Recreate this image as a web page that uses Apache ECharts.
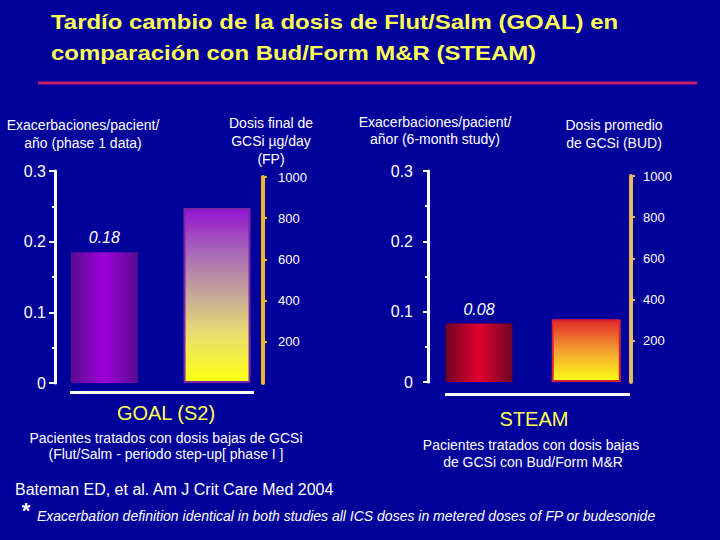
<!DOCTYPE html>
<html>
<head>
<meta charset="utf-8">
<script src="https://cdn.jsdelivr.net/npm/echarts@6/dist/echarts.min.js"></script>
<style>
html,body{margin:0;padding:0;background:#00009a;}
#chart{width:720px;height:540px;}
</style>
</head>
<body>
<div id="chart"></div>
<script>
// ---- data ----
const categories = ['Exacerbaciones', 'Dosis GCSi'];
const goalExacerbations = [0.185, '-'];
const goalDose = ['-', 850];
const steamExacerbations = [0.083, '-'];
const steamDose = ['-', 305];
const exacerbationLabels = ['0.18', '0.08'];
const exacerbationTicks = { min: 0, max: 0.3, interval: 0.1 };
const doseTicks = { min: 0, max: 1000, interval: 200 };

const FONT = '"Liberation Sans", Arial, sans-serif';
const chart = echarts.init(document.getElementById('chart'), null, { renderer: 'svg' });

function hGrad(edge, mid) {
  return new echarts.graphic.LinearGradient(0, 0, 1, 0, [
    { offset: 0, color: edge }, { offset: 0.5, color: mid }, { offset: 1, color: edge }
  ]);
}
function vGrad(stops) {
  return new echarts.graphic.LinearGradient(0, 0, 0, 1, stops);
}

function exacAxis(gridIndex, offset, tickLen, margin) {
  return {
    type: 'value', gridIndex, position: 'left', offset,
    min: exacerbationTicks.min, max: exacerbationTicks.max, interval: exacerbationTicks.interval,
    axisLine: { show: true, lineStyle: { color: '#ffffff', width: 3 } },
    axisTick: { show: true, length: tickLen, lineStyle: { color: '#ffffff', width: 2 } },
    minorTick: { show: true, splitNumber: 2, length: 3, lineStyle: { color: '#ffffff', width: 2 } },
    splitLine: { show: false },
    axisLabel: { color: '#ffffff', fontSize: 16, fontFamily: FONT, margin }
  };
}
function doseAxis(gridIndex, offset, color, margin) {
  return {
    type: 'value', gridIndex, position: 'right', offset,
    min: doseTicks.min, max: doseTicks.max, interval: doseTicks.interval,
    axisLine: { show: true, lineStyle: { color, width: 4 } },
    axisTick: { show: true, length: 4, lineStyle: { color, width: 2 } },
    splitLine: { show: false },
    axisLabel: { color: '#ffffff', fontSize: 13, fontFamily: FONT, margin, showMinLabel: false,
      formatter: (v) => String(v) }
  };
}
function catAxis(gridIndex) {
  return { type: 'category', gridIndex, data: categories, show: false };
}

function txt(text, x, y, size, opts) {
  opts = opts || {};
  return {
    type: 'text', x, y, scaleX: opts.scaleX || 1, silent: true,
    style: {
      text, fill: opts.color || '#ffffff',
      font: (opts.style || '') + ' ' + (opts.weight || 'normal') + ' ' + size + 'px ' + FONT,
      align: opts.align || 'center', verticalAlign: 'middle',
      textAlign: opts.align || 'center', textVerticalAlign: 'middle'
    }
  };
}

const YELLOW = '#ffff55';

const option = {
  backgroundColor: '#00009a',
  animation: false,
  grid: [
    { left: 48, right: 446.65, top: 171, bottom: 157 },
    { left: 48, right: 446.65, top: 177, bottom: 157 },
    { left: 425.4, right: 80.2, top: 171, bottom: 158 },
    { left: 425.4, right: 80.2, top: 176, bottom: 158 }
  ],
  xAxis: [catAxis(0), catAxis(1), catAxis(2), catAxis(3)],
  yAxis: [
    exacAxis(0, -7, 6, 9),
    doseAxis(1, -10.35, '#f2b62c', 15),
    exacAxis(2, -2.6, 5, 15),
    doseAxis(3, -8.8, '#e8b85c', 12)
  ],
  series: [
    {
      type: 'bar', xAxisIndex: 0, yAxisIndex: 0, barWidth: 67, data: goalExacerbations,
      itemStyle: { color: hGrad('#580c8e', '#9e00da') },
      label: { show: true, position: 'top', distance: 7, color: '#ffffff', fontSize: 16,
        fontStyle: 'italic', fontFamily: FONT, formatter: () => exacerbationLabels[0] }
    },
    {
      type: 'bar', xAxisIndex: 1, yAxisIndex: 1, barWidth: 67, data: goalDose,
      itemStyle: {
        color: vGrad([
          { offset: 0, color: '#9414d2' }, { offset: 0.25, color: '#a868b8' },
          { offset: 0.5, color: '#c8a898' }, { offset: 0.72, color: '#e8de70' },
          { offset: 1, color: '#ffff10' }
        ]),
        borderColor: '#7a24a8', borderWidth: 2
      }
    },
    {
      type: 'bar', xAxisIndex: 2, yAxisIndex: 2, barWidth: 67, data: steamExacerbations,
      itemStyle: { color: hGrad('#6e0424', '#e2002e') },
      label: { show: true, position: 'top', distance: 6, color: '#ffffff', fontSize: 16,
        fontStyle: 'italic', fontFamily: FONT, formatter: () => exacerbationLabels[1] }
    },
    {
      type: 'bar', xAxisIndex: 3, yAxisIndex: 3, barWidth: 69, data: steamDose,
      itemStyle: {
        color: vGrad([
          { offset: 0, color: '#e02828' }, { offset: 0.5, color: '#f4a030' },
          { offset: 1, color: '#ffff18' }
        ]),
        borderColor: '#d8203a', borderWidth: 2
      }
    }
  ],
  graphic: [
    txt('Tardío cambio de la dosis de Flut/Salm (GOAL) en', 51, 21.6, 21, { weight: 'bold', color: YELLOW, align: 'left', scaleX: 1.14 }),
    txt('comparación con Bud/Form M&R (STEAM)', 51, 52.6, 21, { weight: 'bold', color: YELLOW, align: 'left', scaleX: 1.14 }),
    { type: 'rect', silent: true, shape: { x: 38, y: 81.5, width: 659, height: 3 }, style: { fill: '#c41e6a' } },

    txt('Exacerbaciones/pacient/', 83, 125, 14),
    txt('año (phase 1 data)', 83, 143, 14),
    txt('Dosis final de', 271, 123, 14),
    txt('GCSi µg/day', 271, 141, 14),
    txt('(FP)', 271, 159, 14),

    txt('Exacerbaciones/pacient/', 435, 122, 14),
    txt('añor (6-month study)', 435, 139, 14),
    txt('Dosis promedio', 614, 125, 14),
    txt('de GCSi (BUD)', 614, 143, 14),

    { type: 'rect', silent: true, shape: { x: 70, y: 391, width: 184, height: 3 }, style: { fill: '#ffffff' } },
    { type: 'rect', silent: true, shape: { x: 445, y: 393, width: 185, height: 3 }, style: { fill: '#ffffff' } },

    txt('GOAL (S2)', 166, 413, 20, { color: YELLOW }),
    txt('Pacientes tratados con dosis bajas de GCSi', 166, 438, 14),
    txt('(Flut/Salm - periodo step-up[ phase I ]', 166, 454, 14),
    txt('STEAM', 534, 419, 20, { color: YELLOW }),
    txt('Pacientes tratados con dosis bajas', 531, 445, 14),
    txt('de GCSi con Bud/Form M&R', 533, 462, 14),

    txt('Bateman ED, et al. Am J Crit Care Med 2004', 15, 489, 16, { align: 'left' }),
    txt('*', 26, 510, 22, { weight: 'bold', align: 'center' }),
    txt('Exacerbation definition identical in both studies all ICS doses in metered doses of FP or budesonide', 37, 516, 14, { style: 'italic', align: 'left' })
  ]
};
chart.setOption(option);
</script>
</body>
</html>
